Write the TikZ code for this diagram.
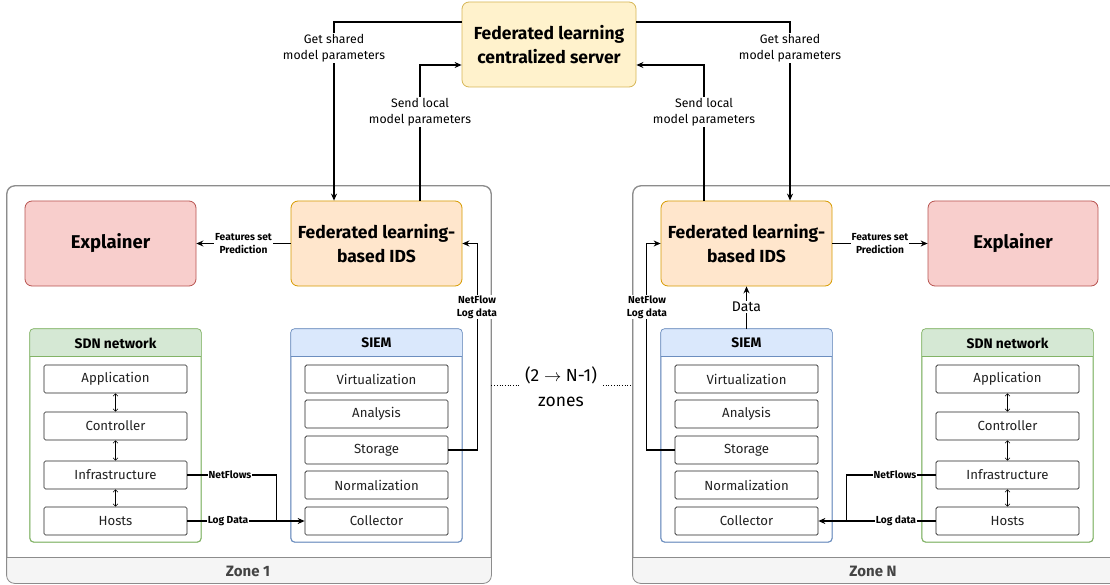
\documentclass[tikz,border=0pt]{standalone}
\usepackage{fontspec}
\setmainfont{Fira Sans}
\usetikzlibrary{arrows.meta,calc}

\definecolor{srvfill}{HTML}{FFF2CC}\definecolor{srvline}{HTML}{D6B656}
\definecolor{idsfill}{HTML}{FFE6CC}\definecolor{idsline}{HTML}{D79B00}
\definecolor{expfill}{HTML}{F8CECC}\definecolor{expline}{HTML}{B85450}
\definecolor{sdnfill}{HTML}{D5E8D4}\definecolor{sdnline}{HTML}{82B366}
\definecolor{siemfill}{HTML}{DAE8FC}\definecolor{siemline}{HTML}{6C8EBF}
\definecolor{zonefill}{HTML}{F5F5F5}\definecolor{zoneline}{HTML}{8C8C8C}
\definecolor{ink}{HTML}{222222}
\definecolor{zoneink}{HTML}{444444}

\tikzset{
  bigbox/.style={draw, rounded corners=7pt, line width=0.8pt, minimum width=171pt,
    minimum height=85pt, align=center, inner sep=0pt,
    font=\fontsize{17.5}{24.5}\selectfont\bfseries},
  panel/.style={draw, rounded corners=4pt, line width=0.7pt, minimum width=171pt,
    minimum height=213pt, inner sep=0pt},
  paneltitle/.style={font=\fontsize{13.8}{15}\selectfont\bfseries, inner sep=0pt},
  layer/.style={draw=ink, rounded corners=1.5pt, line width=0.7pt, minimum width=143pt,
    minimum height=28pt, inner sep=0pt, font=\fontsize{13.2}{15}\selectfont, text=ink},
  zonebox/.style={draw=zoneline, rounded corners=8pt, line width=0.8pt, fill=white,
    inner sep=0pt},
  zonetitle/.style={font=\fontsize{15}{17}\selectfont\bfseries, text=zoneink},
  conn/.style={line width=1.1pt, -{Stealth[length=7pt,width=6pt]}},
  wire/.style={line width=1.1pt},
  dbl/.style={line width=0.5pt, {Straight Barb[length=2.5pt,width=5pt]}-{Straight Barb[length=2.5pt,width=5pt]}},
  lbl/.style={fill=white, align=center, inner sep=1pt, font=\fontsize{12.3}{16.5}\selectfont},
  slbl/.style={fill=white, align=center, inner sep=0.8pt, font=\fontsize{10.2}{13}\selectfont\bfseries},
}

\begin{document}
\begin{tikzpicture}[x=1pt,y=-1pt]
\useasboundingbox (0,0) rectangle (1110,585);
\clip (0,0) rectangle (1110,585);

% ---------- zone containers ----------
\node[zonebox, minimum width=484pt, minimum height=397pt] (zone1) at (249,384.5) {};
\node[zonebox, minimum width=486pt, minimum height=397pt] (zoneN) at (876,384.5) {};
\foreach \z in {zone1,zoneN}{
  \begin{scope}
    \clip[rounded corners=8pt] (\z.north west) rectangle (\z.south east);
    \fill[zonefill] ([yshift=26pt]\z.south west) rectangle (\z.south east);
  \end{scope}
  \draw[zoneline, rounded corners=8pt, line width=0.8pt] (\z.north west) rectangle (\z.south east);
  \draw[zoneline, line width=0.8pt] ([yshift=26pt]\z.south west) -- ([yshift=26pt]\z.south east);
}
\node[zonetitle] (zone1t) at (248,571) {Zone 1};
\node[zonetitle] (zoneNt) at (873,571) {Zone N};

% ---------- server ----------
\node[bigbox, fill=srvfill, draw=srvline, minimum width=174pt] (srv) at (549,44.5)
  {Federated learning\\centralized server};

% ---------- zone 1 ----------
\node[bigbox, fill=expfill, draw=expline] (explL) at (110.5,243.5) {\fontsize{18.5}{23}\selectfont Explainer};
\node[bigbox, fill=idsfill, draw=idsline] (idsL) at (376.5,243.5) {Federated learning-\\based IDS};

% ---------- zone N ----------
\node[bigbox, fill=idsfill, draw=idsline] (idsR) at (746.5,243.5) {Federated learning-\\based IDS};
\node[bigbox, fill=expfill, draw=expline, minimum width=170pt] (explR) at (1013,243.5) {\fontsize{18.5}{23}\selectfont Explainer};

% ---------- panels with header bands ----------
\node[panel, draw=sdnline] (sdnL) at (115.5,435.5) {};
\node[panel, draw=siemline] (siemL) at (376.5,435.5) {};
\node[panel, draw=siemline] (siemR) at (746.5,435.5) {};
\node[panel, draw=sdnline] (sdnR) at (1007.5,435.5) {};
\foreach \p/\f/\d in {sdnL/sdnfill/sdnline, siemL/siemfill/siemline, siemR/siemfill/siemline, sdnR/sdnfill/sdnline}{
  \begin{scope}
    \clip[rounded corners=4pt] (\p.north west) rectangle (\p.south east);
    \fill[\f] (\p.north west) rectangle ([yshift=-28pt]\p.north east);
  \end{scope}
  \draw[\d, rounded corners=4pt, line width=0.7pt] (\p.north west) rectangle (\p.south east);
  \draw[\d, line width=0.7pt] ([yshift=-28pt]\p.north west) -- ([yshift=-28pt]\p.north east);
}
\node[paneltitle] (sdnLt) at (115.5,343) {SDN network};
\node[paneltitle] (siemLt) at (376.5,343) {SIEM};
\node[paneltitle] (siemRt) at (746.5,343) {SIEM};
\node[paneltitle] (sdnRt) at (1007.5,343) {SDN network};

% SDN layers
\foreach \s/\x in {L/115.5, R/1007.5}{
  \node[layer] (app\s)   at (\x,379) {Application};
  \node[layer] (ctrl\s)  at (\x,426) {Controller};
  \node[layer] (infra\s) at (\x,475) {Infrastructure};
  \node[layer] (hosts\s) at (\x,521) {Hosts};
  \draw[dbl] (app\s.south) -- (ctrl\s.north);
  \draw[dbl] (ctrl\s.south) -- (infra\s.north);
  \draw[dbl] (infra\s.south) -- (hosts\s.north);
}
% SIEM layers
\foreach \s/\x in {L/376.5, R/746.5}{
  \node[layer] (virt\s) at (\x,379) {Virtualization};
  \node[layer] (anal\s) at (\x,414) {Analysis};
  \node[layer] (stor\s) at (\x,450) {Storage};
  \node[layer] (norm\s) at (\x,485) {Normalization};
  \node[layer] (coll\s) at (\x,521) {Collector};
}

% ---------- server links ----------
\draw[conn] ([yshift=22.5pt]srv.west) -| ([xshift=-42.5pt]idsL.north);
\draw[conn] ([xshift=43.5pt]idsL.north) |- ([yshift=-20.5pt]srv.west);
\draw[conn] ([yshift=22.5pt]srv.east) -| ([xshift=43.5pt]idsR.north);
\draw[conn] ([xshift=-42.5pt]idsR.north) |- ([yshift=-20.5pt]srv.east);
\node[lbl] (getL)  at (334,48)  {Get shared\\model parameters};
\node[lbl] (sendL) at (420,112) {Send local\\model parameters};
\node[lbl] (getR)  at (790,48)  {Get shared\\model parameters};
\node[lbl] (sendR) at (704,112) {Send local\\model parameters};

% ---------- IDS to explainer ----------
\draw[conn] (idsL.west) -- node[slbl] (featL) {Features set\\Prediction} (explL.east);
\draw[conn] (idsR.east) -- node[slbl] (featR) {Features set\\Prediction} (explR.west);

% ---------- storage feeds ----------
\draw[conn] (storL.east) -- ++(29,0) coordinate (bendL) |- (idsL.east);
\node[slbl] (nfL) at (477,307) {NetFlow\\Log data};
\draw[conn] (storR.west) -- ++(-28,0) coordinate (bendR) |- (idsR.west);
\node[slbl] (nfR) at (647,307) {NetFlow\\Log data};
\draw[conn] (siemR.north) -- (idsR.south);
\node[fill=white, inner sep=1pt, font=\fontsize{14}{16}\selectfont] (dataR) at (746.5,307) {Data};

% ---------- SDN to collector ----------
\draw[wire] (infraL.east) -| ([xshift=-28pt]collL.west);
\draw[conn] (hostsL.east) -- (collL.west);
\node[slbl] (nflL) at (230,475) {NetFlows};
\node[slbl] (ldL)  at (228,521) {Log Data};
\draw[wire] (infraR.west) -| ([xshift=28pt]collR.east);
\draw[conn] (hostsR.west) -- (collR.east);
\node[slbl] (nflR) at (895,475) {NetFlows};
\node[slbl] (ldR)  at (896,521) {Log data};

% ---------- intermediate zones ----------
\node[align=center, inner sep=1pt, font=\fontsize{17.5}{25}\selectfont] (mid) at (561,387)
  {(2 $\rightarrow$ N-1)\\zones};
\draw[dotted, line width=0.7pt] (zone1.east |- 0,385) -- (520,385);
\draw[dotted, line width=0.7pt] (603,385) -- (zoneN.west |- 0,385);
\end{tikzpicture}
\end{document}
